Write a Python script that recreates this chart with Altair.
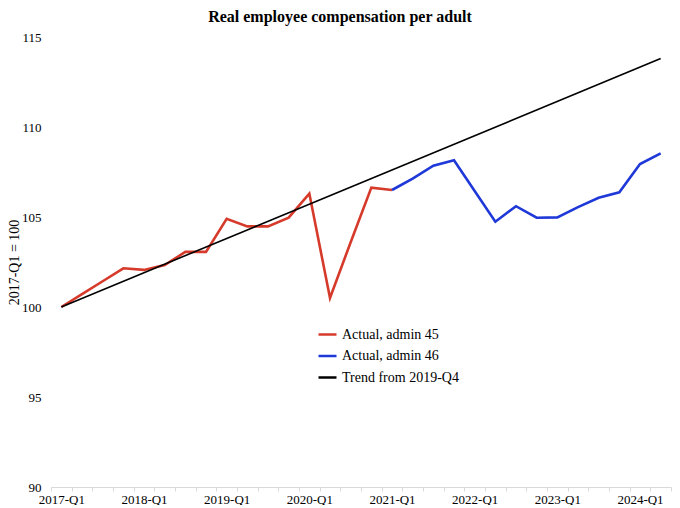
import json
import altair as alt
import pandas as pd

quarters = [f"{y}-Q{q}" for y in range(2017, 2025) for q in range(1, 5)][:30]

red_quarters = quarters[0:17]
red_values = [100.0, 100.72, 101.43, 102.15, 102.06, 102.33, 103.06, 103.06,
              104.9, 104.48, 104.48, 104.96, 106.3, 100.5, 103.6, 106.63, 106.5]

blue_quarters = quarters[16:30]
blue_values = [106.5, 107.13, 107.85, 108.15, 106.45, 104.74, 105.6, 104.96,
               104.98, 105.55, 106.07, 106.37, 107.94, 108.54]

trend_quarters = ["2017-Q1", "2024-Q2"]
trend_values = [100.0, 113.8]

series_names = ["Actual, admin 45", "Actual, admin 46", "Trend from 2019-Q4"]
series_colors = ["#d63a2b", "#1f38d8", "#000000"]


def frame(name, qs, vs):
    return pd.DataFrame({"idx": [quarters.index(q) for q in qs], "quarter": qs,
                         "value": vs, "series": name})


actual_df = pd.concat([frame(series_names[0], red_quarters, red_values),
                       frame(series_names[1], blue_quarters, blue_values)],
                      ignore_index=True)
trend_df = frame(series_names[2], trend_quarters, trend_values)

shown_labels = [q if q.endswith("Q1") else "" for q in quarters]
label_expr = "(" + json.dumps(shown_labels) + ")[datum.value + 0.5] || ''"
tick_values = [i - 0.5 for i in range(len(quarters) + 1)]

FONT = "Liberation Serif"
W, H = 620, 450
step = W / len(quarters)

x_enc = alt.X("idx:Q",
              scale=alt.Scale(domain=[-0.5, len(quarters) - 0.5], nice=False, zero=False),
              axis=alt.Axis(title=None, values=tick_values, labelExpr=label_expr,
                            labelAngle=0, labelOverlap=False, labelFlush=False,
                            labelOffset=step / 2, labelFont=FONT, labelFontSize=13,
                            labelColor="#000000", labelPadding=2,
                            domainColor="#d9d9d9", tickColor="#d9d9d9", tickSize=4,
                            grid=False))
y_enc = alt.Y("value:Q",
              scale=alt.Scale(domain=[90, 115], nice=False, zero=False),
              axis=alt.Axis(title="2017-Q1 = 100", values=[90, 95, 100, 105, 110, 115],
                            domain=False, ticks=False, grid=False,
                            labelFont=FONT, labelFontSize=13, labelColor="#000000",
                            labelPadding=10, titleFont=FONT, titleFontSize=14,
                            titleFontWeight="normal", titleColor="#000000",
                            titlePadding=0))
color_enc = alt.Color("series:N",
                      scale=alt.Scale(domain=series_names, range=series_colors),
                      legend=alt.Legend(title=None, orient="none", legendX=266, legendY=287,
                                        symbolType="stroke", symbolSize=324,
                                        symbolStrokeWidth=2.5, labelFont=FONT,
                                        labelFontSize=14, labelColor="#000000",
                                        rowPadding=3.5))

actual = alt.Chart(actual_df).mark_line(strokeWidth=2.6).encode(
    x=x_enc, y=y_enc, color=color_enc, order="idx:Q")
trend = alt.Chart(trend_df).mark_line(strokeWidth=1.6).encode(
    x=x_enc, y=y_enc, color=color_enc, order="idx:Q")

chart = alt.layer(actual, trend).properties(
    width=W,
    height=H,
    title=alt.TitleParams("Real employee compensation per adult", font=FONT,
                          fontSize=16, fontWeight="bold", color="#000000",
                          anchor="middle", dx=-21, offset=6),
    autosize=alt.AutoSizeParams(type="none"),
    padding={"left": 43, "top": 29, "right": 1, "bottom": 18},
).configure_view(strokeWidth=0)

chart.save("out.html", embed_options={"renderer": "svg", "actions": False})
